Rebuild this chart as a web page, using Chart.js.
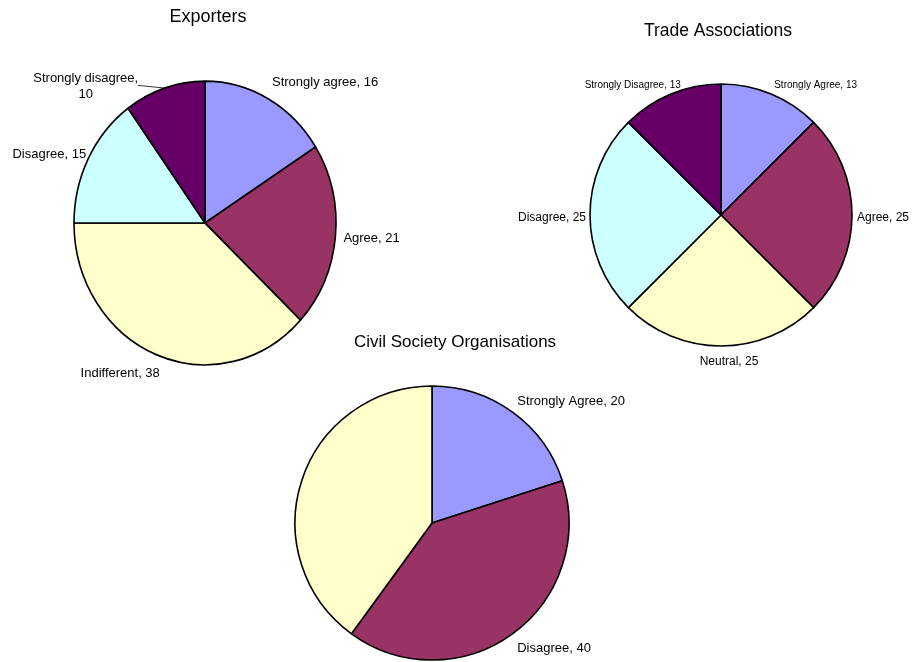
<!DOCTYPE html>
<html><head><meta charset="utf-8">
<script src="https://cdn.jsdelivr.net/npm/chart.js@4.4.0/dist/chart.umd.min.js"></script>
<style>
html,body{margin:0;padding:0;background:#fff;width:913px;height:662px;overflow:hidden;}
#wrap{position:relative;width:913px;height:662px;}
canvas{position:absolute;left:0;top:0;}
</style></head><body>
<div id="wrap">
<canvas id="c1" width="913" height="662"></canvas>
<canvas id="c2" width="913" height="662"></canvas>
<canvas id="c3" width="913" height="662"></canvas>
</div>
<script>
// ---- data ----
const exportersTitle = 'Exporters';
const exportersLabels = ['Strongly agree', 'Agree', 'Indifferent', 'Disagree', 'Strongly disagree'];
const exportersValues = [16, 21, 38, 15, 10];

const tradeTitle = 'Trade Associations';
const tradeLabels = ['Strongly Agree', 'Agree', 'Neutral', 'Disagree', 'Strongly Disagree'];
const tradeValues = [12.5, 25, 25, 25, 12.5];

const civilTitle = 'Civil Society Organisations';
const civilLabels = ['Strongly Agree', 'Disagree', ''];
const civilValues = [20, 40, 40];

const sliceColors = ['#9999FF', '#993366', '#FFFFCC', '#CCFFFF', '#660066'];

// ---- decoration plugin ----
const FONT = '"Liberation Sans", Arial, sans-serif';
const pieDecor = {
  id: 'pieDecor',
  beforeDatasetsDraw(chart, args, o) {
    const a = chart.getDatasetMeta(0).data[0];
    const ctx = chart.ctx;
    ctx.save();
    ctx.translate(a.x, a.y); ctx.scale(1, o.sy); ctx.translate(-a.x, -a.y);
  },
  afterDatasetsDraw(chart, args, o) {
    const ctx = chart.ctx;
    ctx.restore();
    const meta = chart.getDatasetMeta(0);
    const labels = chart.data.labels;
    const vals = chart.data.datasets[0].data;
    const a0 = meta.data[0];
    ctx.save();
    ctx.fillStyle = '#000';
    ctx.textAlign = 'center';
    ctx.textBaseline = 'middle';
    ctx.font = o.titleSize + 'px ' + FONT;
    ctx.fillText(o.title, a0.x + o.titleDx, a0.y + o.titleDy);
    meta.data.forEach((arc, i) => {
      if (!labels[i]) return;
      const mid = (arc.startAngle + arc.endAngle) / 2;
      const dx = Math.cos(mid), dy = Math.sin(mid);
      const R = arc.outerRadius + o.gap;
      const px = arc.x + dx * R, py = arc.y + dy * R * o.sy;
      const size = o.sizes[i];
      ctx.font = size + 'px ' + FONT;
      const txt = labels[i] + ', ' + Math.round(vals[i]);
      const lines = o.wrap[i] ? [labels[i] + ',', String(Math.round(vals[i]))] : [txt];
      const lh = size * 1.25;
      const w = Math.max(...lines.map(l => ctx.measureText(l).width));
      const h = lines.length * lh;
      const sx = Math.abs(dx) < 0.2 ? 0 : Math.sign(dx);
      const nd = o.nudge[i] || [0, 0];
      const cx = px + sx * w / 2 + nd[0];
      const cy = py + dy * h / 2 + nd[1];
      lines.forEach((l, k) => {
        ctx.fillText(l, cx, cy - h / 2 + lh * (k + 0.5));
      });
      if (o.leader[i]) {
        const ex = arc.x + dx * arc.outerRadius, ey = arc.y + dy * arc.outerRadius * o.sy;
        ctx.strokeStyle = '#000';
        ctx.lineWidth = 0.8;
        ctx.beginPath();
        ctx.moveTo(cx + w / 2, cy - h / 2 + lh - 1);
        ctx.lineTo(ex, ey);
        ctx.stroke();
      }
    });
    ctx.restore();
  }
};

function makePie(id, labels, values, cfg) {
  const W = 913, H = 662;
  new Chart(document.getElementById(id), {
    type: 'pie',
    data: {
      labels: labels,
      datasets: [{
        data: values,
        backgroundColor: sliceColors.slice(0, values.length),
        borderColor: '#000',
        borderWidth: 1.6,
        radius: cfg.r
      }]
    },
    options: {
      responsive: false,
      animation: false,
      events: [],
      layout: { padding: { left: cfg.cx - cfg.r, right: W - cfg.cx - cfg.r, top: cfg.cy - cfg.r, bottom: H - cfg.cy - cfg.r } },
      plugins: {
        legend: { display: false },
        tooltip: { enabled: false },
        title: { display: false },
        pieDecor: cfg.decor
      }
    },
    plugins: [pieDecor]
  });
}

makePie('c1', exportersLabels, exportersValues, {
  cx: 205, cy: 223, r: 131,
  decor: {
    sy: 1.083, gap: 8, title: exportersTitle, titleSize: 18, titleDx: 3, titleDy: -206,
    sizes: [13, 13, 13, 13, 13],
    wrap: [false, false, false, false, true],
    leader: [false, false, false, false, true],
    nudge: [[0, -2], [0, 0], [6, 3], [5, 3], [-24, 22]]
  }
});

makePie('c2', tradeLabels, tradeValues, {
  cx: 721, cy: 215, r: 131,
  decor: {
    sy: 1, gap: 8, title: tradeTitle, titleSize: 17.5, titleDx: -3, titleDy: -184,
    sizes: [10, 12, 12, 12, 10],
    wrap: [false, false, false, false, false],
    leader: [false, false, false, false, false],
    nudge: [[0, 4], [-3, 3], [8, 0], [4, 3], [13, 4]]
  }
});

makePie('c3', civilLabels, civilValues, {
  cx: 432, cy: 523, r: 137,
  decor: {
    sy: 1, gap: 8, title: civilTitle, titleSize: 17, titleDx: 23, titleDy: -181,
    sizes: [13, 13, 13],
    wrap: [false, false, false],
    leader: [false, false, false],
    nudge: [[0, 2], [0, 2], [0, 0]]
  }
});
</script>
</body></html>
